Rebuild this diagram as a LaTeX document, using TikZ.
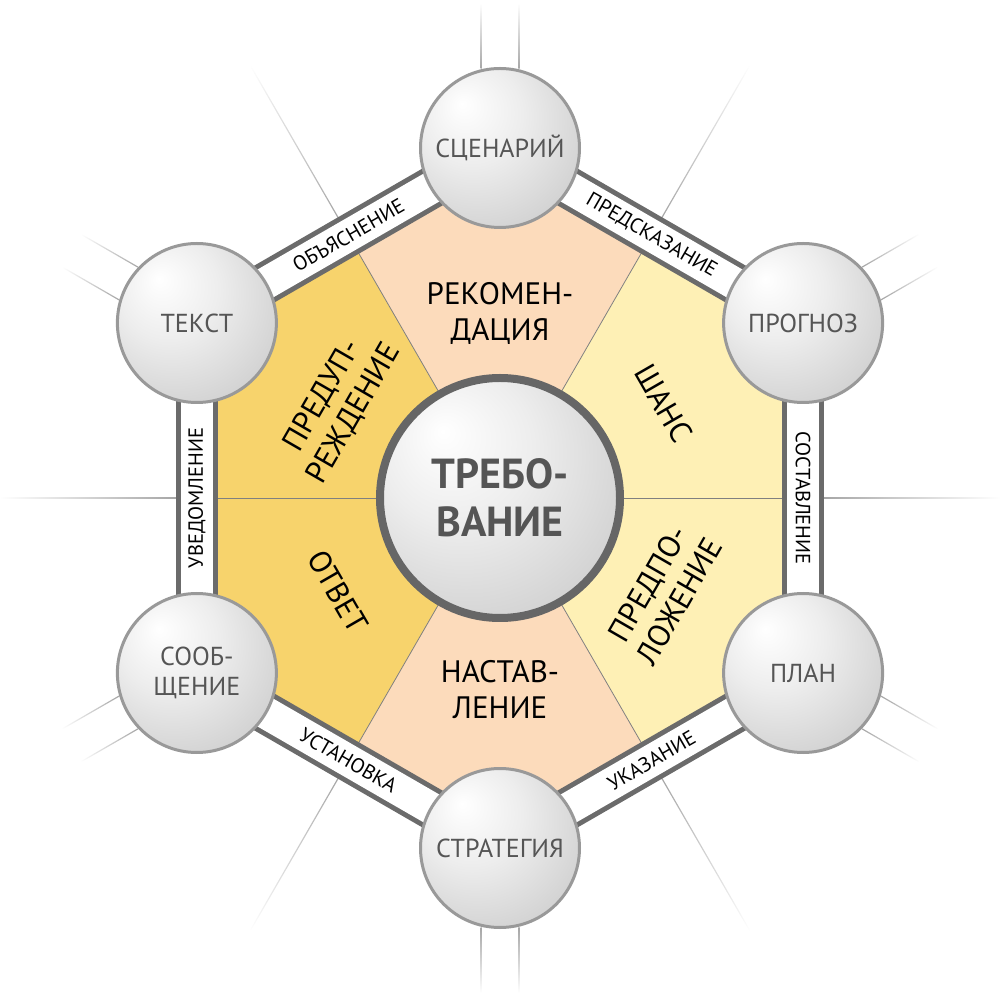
\documentclass[tikz,border=0pt]{standalone}
\usepackage{fontspec}
\setmainfont{PT Sans}
\usetikzlibrary{positioning}
\definecolor{peach}{HTML}{FCDBBB}
\definecolor{lemon}{HTML}{FEF0B5}
\definecolor{gold}{HTML}{F7D36C}
\definecolor{frame}{HTML}{6B6B6B}
\definecolor{ink}{HTML}{555555}
\pgfdeclarelayer{back}
\pgfdeclarelayer{band}
\pgfsetlayers{back,band,main}
\pgfdeclareradialshading{sphere}{\pgfpoint{-12bp}{14bp}}{%
  color(0bp)=(white); color(16bp)=(black!7); color(40bp)=(black!21); color(66bp)=(black!30)}
\def\R{350}   % centre to ball
\def\A{303.1} % centre to middle of a side

\begin{document}
\begin{tikzpicture}[x=1pt,y=1pt,
      every node/.style={
        align=center,   % so that "\\" breaks the line
        inner sep=0pt
      },
      ball/.style={circle,draw=black!40,line width=3pt,shading=sphere,
        minimum size=159pt,text=ink,font=\fontsize{26}{30}\selectfont},
      hub/.style={circle,draw=black!60,line width=8pt,shading=sphere,
        minimum size=240pt,text=ink,font=\fontsize{42}{48}\selectfont\bfseries},
      sector/.style={font=\fontsize{31}{36}\selectfont},
      bandtxt/.style={font=\fontsize{20.5}{22}\selectfont},
      band/.style={draw=frame,line width=42pt},
      bandin/.style={draw=white,line width=32pt},
      divider/.style={draw=black!50,line width=0.8pt},
      ray/.style={left color=black!35,right color=white}
    ]
    \useasboundingbox (-500,-502) rectangle (500,498);
    \node[hub](H) at (0,0) {ТРЕБО-\\ВАНИЕ};
    \node[ball](C1) at (90:\R) {СЦЕНАРИЙ};
    \node[ball](C2) at (30:\R) {ПРОГНОЗ};
    \node[ball](C3) at (-30:\R) {ПЛАН};
    \node[ball](C4) at (-90:\R) {СТРАТЕГИЯ};
    \node[ball](C5) at (210:\R) {СООБ-\\ЩЕНИЕ};
    \node[ball](C6) at (150:\R) {ТЕКСТ};
    % inside the hexagon
    \node[sector](S1) at (90:185) {РЕКОМЕН-\\ДАЦИЯ};
    \node[sector,rotate=-60](S2) at (30:189) {ШАНС};
    \node[sector,rotate=60](S3) at (-30:189) {ПРЕДПО-\\ЛОЖЕНИЕ};
    \node[sector](S4) at (-90:192) {НАСТАВ-\\ЛЕНИЕ};
    \node[sector,rotate=-60](S5) at (210:187) {ОТВЕТ};
    \node[sector,rotate=60](S6) at (150:187) {ПРЕДУП-\\РЕЖДЕНИЕ};
    % on the frame
    \path (C6) -- node[bandtxt,rotate=30](L1) {ОБЪЯСНЕНИЕ} (C1);
    \path (C1) -- node[bandtxt,rotate=-30](L2) {ПРЕДСКАЗАНИЕ} (C2);
    \path (C2) -- node[bandtxt,rotate=-90](L3) {СОСТАВЛЕНИЕ} (C3);
    \path (C3) -- node[bandtxt,rotate=30](L4) {УКАЗАНИЕ} (C4);
    \path (C4) -- node[bandtxt,rotate=-30](L5) {УСТАНОВКА} (C5);
    \path (C5) -- node[bandtxt,rotate=90](L6) {УВЕДОМЛЕНИЕ} (C6);

    \begin{pgfonlayer}{back}
      \foreach \a/\c in {90/peach,30/lemon,-30/lemon,-90/peach,210/gold,150/gold}
        \fill[\c] (0,0) -- (\a-30:\A) -- (\a:\R) -- (\a+30:\A) -- cycle;
      \foreach \a in {0,60,...,300}
        \draw[divider] (H) -- (\a:\A);
      % fading rays
      \foreach \a in {0,60,...,300}{
        \begin{scope}[transform canvas={rotate=\a}]
          \shade[ray] (323,-0.6) rectangle (500,0.6);
        \end{scope}}
      \foreach \a in {30,90,...,330}{
        \begin{scope}[transform canvas={rotate=\a}]
          \shade[ray] (429,18.3) rectangle (495,19.5);
          \shade[ray] (429,-19.5) rectangle (495,-18.3);
        \end{scope}}
    \end{pgfonlayer}
    \begin{pgfonlayer}{band}
      \foreach \i/\j in {1/2,2/3,3/4,4/5,5/6,6/1}
        \draw[band] (C\i.center) -- (C\j.center);
      \foreach \i/\j in {1/2,2/3,3/4,4/5,5/6,6/1}
        \draw[bandin] (C\i.center) -- (C\j.center);
    \end{pgfonlayer}
  \end{tikzpicture}
\end{document}
